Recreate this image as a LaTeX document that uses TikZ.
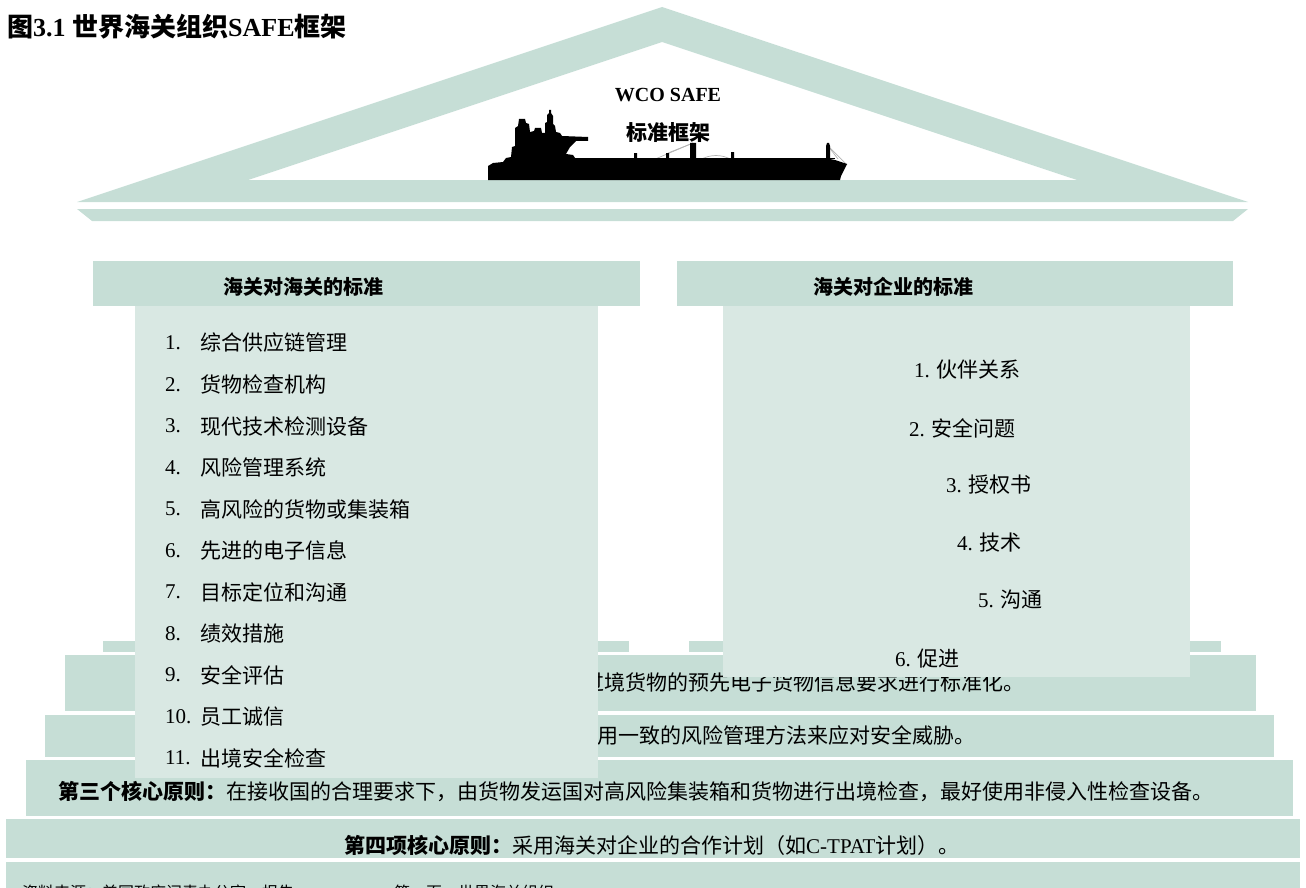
\documentclass[tikz,border=0pt]{standalone}
\usepackage{fontspec}
\setmainfont{Liberation Serif}
\newfontfamily\cjk{Noto Sans CJK SC}
\newcommand\zhs[1]{{\cjk #1}}
\definecolor{bandc}{RGB}{198,222,214}
\definecolor{bodyc}{RGB}{217,232,227}
\tikzset{
  band/.style={fill=bandc, draw=none},
  colbody/.style={fill=bodyc, draw=none},
  txt/.style={inner sep=0pt, anchor=west, font=\fontsize{21}{25}\selectfont},
  headtxt/.style={inner sep=0pt, font=\fontsize{20}{24}\selectfont\bfseries},
  rig/.style={draw=gray!60, line width=0.7pt},
}
\begin{document}
\begin{tikzpicture}[x=1pt,y=-1pt]
\useasboundingbox (0,0) rectangle (1306,888);
\clip (0,0) rectangle (1306,888);

% title
\node[inner sep=0pt, anchor=west, font=\fontsize{26}{30}\selectfont\bfseries] (title) at (7,27)
  {\zhs{图}3.1 \zhs{世界海关组织}SAFE\zhs{框架}};

% roof: outer gable minus inner gable, then the lower beam
\fill[bandc, even odd rule] (77,202) -- (662,7) -- (1248,202) -- cycle
  (248,180) -- (662,42) -- (1077,180) -- cycle;
\fill[bandc] (77,209) -- (1248,209) -- (1233,221) -- (92,221) -- cycle;

% ship silhouette
\draw[rig] (693,143) -- (653,160);
\draw[rig] (693,143) -- (668,153);
\draw[rig] (828,146) -- (847,165);
\draw[rig] (828,146) -- (838,159);
\draw[rig] (700,160) .. controls (710,154) and (722,154) .. (732,160);
\fill[black] (488,180) -- (488,166) -- (493,163) -- (503,162) -- (506,158) -- (511,157)
  -- (512,147) -- (515,146) -- (515,128) -- (518,126) -- (519,119) -- (525,119)
  -- (526,123) -- (529,124) -- (530,132) -- (534,131) -- (535,128) -- (541,128)
  -- (542,133) -- (545,133) -- (545,123) -- (547,122) -- (547,115) -- (549,113)
  -- (549,110) -- (551,110) -- (551,113) -- (553,116) -- (553,124) -- (555,126)
  -- (556,132) -- (560,133) -- (562,136) -- (588,137) -- (588,141) -- (576,141)
  -- (570,147) -- (566,154) -- (573,155) -- (575,158) -- (600,159)
  -- (634,159) -- (634,153) -- (637,153) -- (637,159)
  -- (666,159) -- (666,153) -- (669,153) -- (669,159)
  -- (690,159) -- (690,143) -- (696,143) -- (696,159)
  -- (731,159) -- (731,152) -- (734,152) -- (734,159)
  -- (826,159) -- (826,146) -- (827,143) -- (829,143) -- (830,146) -- (830,159)
  -- (835,160) -- (847,164) -- (844,170) -- (841,176) -- (840,180) -- cycle;
\draw[black, line width=1.2pt] (575,158.5) -- (835,158.5);

\node[inner sep=0pt, font=\fontsize{20}{24}\selectfont\bfseries] (wco) at (668,95) {WCO SAFE};
\node[inner sep=0pt, font=\fontsize{21}{25}\selectfont\bfseries] (frame) at (668,133) {\zhs{标准框架}};

% column headers
\fill[band] (93,261) rectangle (640,306);
\fill[band] (677,261) rectangle (1233,306);
\node[headtxt] (hleft) at (303,287) {\zhs{海关对海关的标准}};
\node[headtxt] (hright) at (893,287) {\zhs{海关对企业的标准}};

% column bases
\fill[band] (103,641) rectangle (629,652);
\fill[band] (689,641) rectangle (1221,652);

% steps of the base
\fill[band] (65,655) rectangle (1256,711);
\fill[band] (45,715) rectangle (1274,757);
\fill[band] (26,760) rectangle (1293,816);
\fill[band] (6,819) rectangle (1300,858);
\fill[band] (6,862) rectangle (1300,900);

\node[txt] (p1) at (583,682) {\zhs{过境货物的预先电子货物信息要求进行标准化。}};
\node[txt] (p2) at (597,735) {\zhs{用一致的风险管理方法来应对安全威胁。}};
\node[txt] (p3) at (58,792) {\zhs{\bfseries 第三个核心原则：}\zhs{在接收国的合理要求下，由货物发运国对高风险集装箱和货物进行出境检查，最好使用非侵入性检查设备。}};
\node[txt] (p4) at (344,845) {\zhs{\bfseries 第四项核心原则：}\zhs{采用海关对企业的合作计划（如}C-TPAT\zhs{计划）。}};
\node[txt, font=\fontsize{16}{19}\selectfont] (src) at (22,893) {\zhs{资料来源：美国政府问责办公室，报告}\hspace{100pt}\zhs{第一页，世界海关组织}};

% column bodies
\fill[colbody] (135,306) rectangle (598,778);
\fill[colbody] (723,306) rectangle (1190,677);

% customs-to-customs standards
\foreach \n/\t [count=\i from 0] in {1./综合供应链管理, 2./货物检查机构, 3./现代技术检测设备,
  4./风险管理系统, 5./高风险的货物或集装箱, 6./先进的电子信息, 7./目标定位和沟通,
  8./绩效措施, 9./安全评估, 10./员工诚信, 11./出境安全检查}{
  \node[txt] (ln\i) at (165,343+41.5*\i) {\n};
  \node[txt] (lt\i) at (200,343+41.5*\i) {\zhs{\t}};
}

% customs-to-business standards
\node[txt] (r1) at (914,370) {1. \zhs{伙伴关系}};
\node[txt] (r2) at (909,428) {2. \zhs{安全问题}};
\node[txt] (r3) at (946,485) {3. \zhs{授权书}};
\node[txt] (r4) at (957,543) {4. \zhs{技术}};
\node[txt] (r5) at (978,600) {5. \zhs{沟通}};
\node[txt] (r6) at (895,659) {6. \zhs{促进}};
\end{tikzpicture}
\end{document}
